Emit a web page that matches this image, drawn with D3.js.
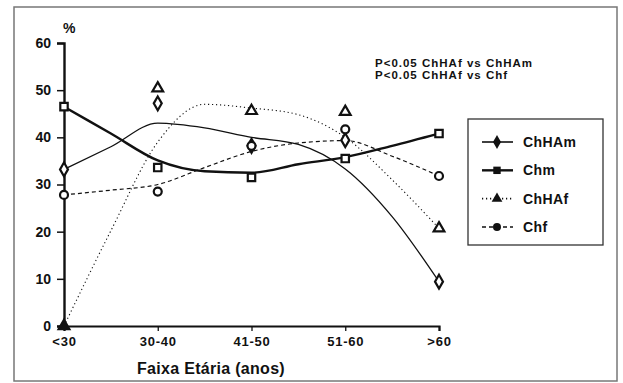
<!DOCTYPE html>
<html>
<head>
<meta charset="utf-8">
<script src="https://cdn.jsdelivr.net/npm/d3@7"></script>
<style>
  body { margin: 0; background: #fff; }
  text { font-family: "Liberation Sans", Arial, sans-serif; font-weight: bold; fill: #111; }
</style>
</head>
<body>
<div id="chart-area"></div>
<script>
const width = 623;
const height = 383;

// age groups
const categories = ["<30", "30-40", "41-50", "51-60", ">60"];
const yTicks = [0, 10, 20, 30, 40, 50, 60];

// observed percentages (markers)
const chham = [33.2, 47.2, 38.2, 39.4, 9.4];
const chm = [46.5, 33.6, 31.5, 35.5, 40.8];
const chhaf = [0, 50.4, 45.6, 45.4, 20.7];
const chf = [27.8, 28.5, 38.2, 41.7, 31.8];

// smoothed curves, read at every half step of the age axis
const fitPos = [0, 0.5, 1, 1.5, 2, 2.5, 3, 3.5, 4];
const chhamFit = [33.2, 38.0, 43.0, 42.0, 40.0, 38.5, 33.3, 23.2, 9.4];
const chmFit = [46.5, 40.8, 35.1, 32.8, 32.5, 34.3, 35.8, 38.2, 40.8];
const chhafFit = [0, 20.2, 39.0, 47.0, 46.2, 44.8, 40.0, 31.0, 20.7];
const chfFit = [27.8, 28.8, 30.0, 33.6, 37.0, 38.8, 39.3, 36.0, 31.8];

const series = [
    { name: "ChHAm", obs: chham, fit: chhamFit, sym: d3.symbolDiamond, size: 55, sw: 1.3, dash: null },
    { name: "Chm", obs: chm, fit: chmFit, sym: d3.symbolSquare, size: 55, sw: 2.4, dash: null },
    { name: "ChHAf", obs: chhaf, fit: chhafFit, sym: d3.symbolTriangle, size: 50, sw: 1.1, dash: "1.2,2.8" },
    { name: "Chf", obs: chf, fit: chfFit, sym: d3.symbolCircle, size: 50, sw: 1.2, dash: "4,3" }
];

const svg = d3.select("#chart-area")
    .append("svg")
    .attr("width", width)
    .attr("height", height);

// scanned frame
svg.append("rect")
    .attr("x", 14).attr("y", 7)
    .attr("width", 603).attr("height", 374)
    .attr("fill", "none")
    .attr("stroke", "#777")
    .attr("stroke-width", 1.5);

const x = d3.scalePoint().domain(categories).range([64, 439]);
const xFit = d3.scaleLinear().domain([0, 4]).range([64, 439]);
const y = d3.scaleLinear().domain([0, 60]).range([326, 43]);

// y axis
const yAxis = svg.append("g")
    .attr("transform", "translate(64,0)")
    .call(d3.axisLeft(y).tickValues(yTicks).tickSize(7).tickPadding(6));
yAxis.select(".domain").attr("stroke", "#111").attr("stroke-width", 2.4);
yAxis.selectAll(".tick line").attr("stroke", "#111").attr("stroke-width", 1.5);
yAxis.selectAll("text").style("font-size", "14px").style("font-family", "Liberation Sans, Arial").style("font-weight", "bold").attr("fill", "#111");

// x axis
const xAxis = svg.append("g")
    .attr("transform", "translate(0,326)")
    .call(d3.axisBottom(x).tickSizeOuter(0).tickSize(5).tickPadding(6));
xAxis.select(".domain").attr("stroke", "#111").attr("stroke-width", 2.2);
xAxis.selectAll(".tick line").attr("stroke", "#111").attr("stroke-width", 1.3);
xAxis.selectAll("text").style("font-size", "13px").style("font-family", "Liberation Sans, Arial").style("font-weight", "bold").style("letter-spacing", "0.8px").attr("fill", "#111");

svg.append("text")
    .attr("x", 63).attr("y", 33)
    .style("font-size", "14px")
    .text("%");

svg.append("text")
    .attr("x", 211).attr("y", 374)
    .attr("text-anchor", "middle")
    .style("font-size", "16px")
    .style("letter-spacing", "0.3px")
    .text("Faixa Etária (anos)");

// fitted curves
const line = d3.line()
    .x((d, i) => xFit(fitPos[i]))
    .y(d => y(d))
    .curve(d3.curveMonotoneX);

series.forEach(s => {
    svg.append("path")
        .attr("d", line(s.fit))
        .attr("fill", "none")
        .attr("stroke", "#111")
        .attr("stroke-width", s.sw)
        .attr("stroke-dasharray", s.dash);
});

// observed markers
series.forEach(s => {
    svg.append("g").selectAll("path")
        .data(s.obs)
        .enter().append("path")
        .attr("transform", (d, i) => `translate(${x(categories[i])},${y(d)})`)
        .attr("d", d3.symbol().type(s.sym).size(s.size))
        .attr("fill", d => d === 0 ? "#111" : "#fff")
        .attr("stroke", "#111")
        .attr("stroke-width", 2.2);
});

// significance notes
svg.append("text")
    .attr("x", 375).attr("y", 67)
    .style("font-size", "11.5px")
    .style("letter-spacing", "1px")
    .text("P<0.05 ChHAf vs ChHAm");
svg.append("text")
    .attr("x", 375).attr("y", 79)
    .style("font-size", "11.5px")
    .style("letter-spacing", "1px")
    .text("P<0.05 ChHAf vs Chf");

// legend
const legend = svg.append("g");
legend.append("rect")
    .attr("x", 468).attr("y", 119)
    .attr("width", 135).attr("height", 126)
    .attr("fill", "#fff")
    .attr("stroke", "#333")
    .attr("stroke-width", 1.3);

const ly = d3.scalePoint().domain(series.map(s => s.name)).range([142, 227]);

series.forEach(s => {
    const g = legend.append("g").attr("transform", `translate(0,${ly(s.name)})`);
    g.append("line")
        .attr("x1", 482).attr("x2", 513)
        .attr("stroke", "#111")
        .attr("stroke-width", Math.max(s.sw, 1.6))
        .attr("stroke-dasharray", s.dash);
    g.append("path")
        .attr("transform", "translate(497,0)")
        .attr("d", d3.symbol().type(s.sym).size(s.size))
        .attr("fill", "#111");
    g.append("text")
        .attr("x", 523).attr("y", 5)
        .style("font-size", "14px")
        .style("letter-spacing", "0.4px")
        .text(s.name);
});
</script>
</body>
</html>
